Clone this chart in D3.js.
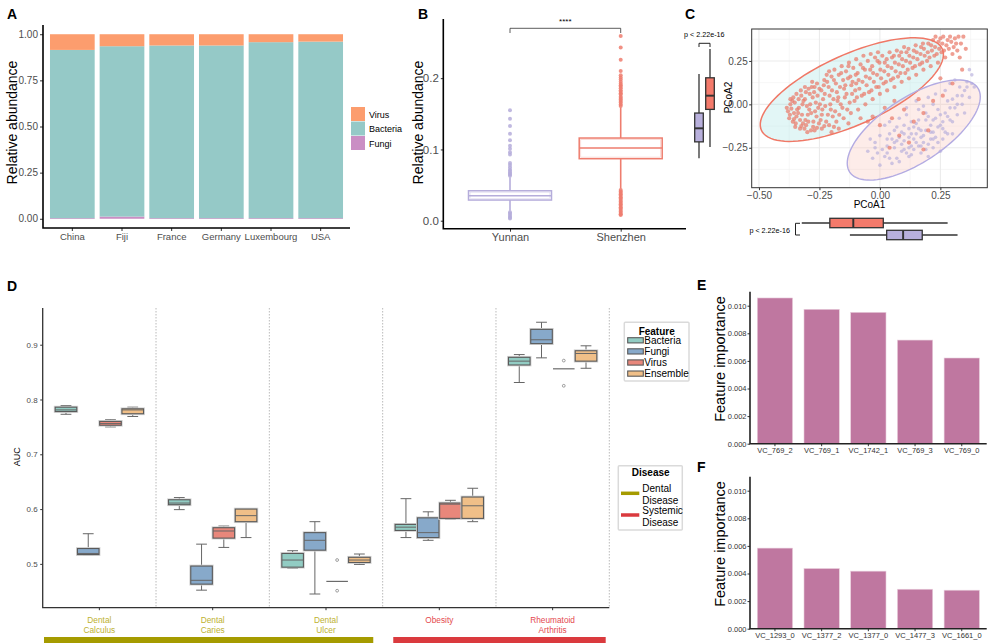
<!DOCTYPE html>
<html>
<head>
<meta charset="utf-8">
<script src="https://cdn.jsdelivr.net/npm/d3@7/dist/d3.min.js"></script>
<style>
  body { margin: 0; background: #fff; }
  svg { display: block; font-family: "Liberation Sans", Arial, Helvetica, sans-serif; }
</style>
</head>
<body>
<svg id="fig" width="989" height="643"></svg>
<script>
// ================= data =================
// A: relative abundance by country (stacked, bottom -> top)
const countries = ["China", "Fiji", "France", "Germany", "Luxembourg", "USA"];
const kingdoms = ["Fungi", "Bacteria", "Virus"];
const fungiAbund = [0.003, 0.012, 0.003, 0.003, 0.003, 0.003];
const bacteriaAbund = [0.912, 0.923, 0.936, 0.936, 0.954, 0.957];
const virusAbund = [0.085, 0.065, 0.061, 0.061, 0.043, 0.040];
const abundTicks = [0, 0.25, 0.5, 0.75, 1];

// B: viral relative abundance, [lower whisker, q1, median, q3, upper whisker]
const regions = ["Yunnan", "Shenzhen"];
const yunnanStats = [0.014, 0.029, 0.035, 0.042, 0.061];
const shenzhenStats = [0.045, 0.087, 0.102, 0.116, 0.159];
const yunnanOutliers = [0.063, 0.065, 0.066, 0.068, 0.070, 0.072, 0.075, 0.078, 0.081, 0.093, 0.096,
  0.101, 0.105, 0.113, 0.122, 0.133, 0.143, 0.155, 0.012, 0.010, 0.008, 0.006, 0.004, 0.003];
const shenzhenOutliers = [0.161, 0.163, 0.166, 0.168, 0.170, 0.172, 0.174, 0.177, 0.179, 0.181, 0.183,
  0.186, 0.188, 0.190, 0.192, 0.195, 0.198, 0.201, 0.204, 0.210, 0.226, 0.243, 0.259,
  0.043, 0.041, 0.039, 0.037, 0.035, 0.033, 0.031, 0.029, 0.027, 0.025, 0.023, 0.021, 0.019,
  0.017, 0.015, 0.013, 0.011, 0.009, 0.008];
const abundTicksB = [0, 0.1, 0.2];

// C: PCoA coordinates
const shenzhenPts = [
  [-0.38,-0.04],[-0.375,-0.08],[-0.37,0.0],[-0.385,-0.02],[-0.36,-0.1],[-0.355,-0.05],[-0.362,0.02],[-0.35,-0.13],
  [-0.358,0.04],[-0.345,-0.07],[-0.33,-0.14],[-0.335,-0.02],[-0.325,0.05],[-0.33,-0.09],[-0.32,0.0],[-0.338,-0.05],
  [-0.318,-0.11],[-0.327,0.08],[-0.30,-0.16],[-0.305,-0.12],[-0.298,-0.06],[-0.31,0.03],[-0.295,0.09],[-0.302,-0.01],
  [-0.29,0.06],[-0.308,-0.09],[-0.292,-0.03],[-0.27,-0.15],[-0.275,-0.1],[-0.268,-0.04],[-0.265,0.01],[-0.272,0.07],
  [-0.26,0.12],[-0.278,0.04],[-0.262,-0.07],[-0.27,0.1],[-0.24,-0.14],[-0.245,-0.09],[-0.238,-0.03],[-0.235,0.03],
  [-0.242,0.08],[-0.23,0.14],[-0.248,0.0],[-0.232,0.11],[-0.24,-0.06],[-0.21,-0.12],[-0.215,-0.06],[-0.205,0.0],
  [-0.208,0.05],[-0.212,0.1],[-0.2,0.16],[-0.218,0.13],[-0.203,-0.03],[-0.21,0.19],[-0.18,-0.1],[-0.185,-0.04],
  [-0.175,0.02],[-0.178,0.07],[-0.182,0.12],[-0.17,0.17],[-0.188,0.2],[-0.172,0.04],[-0.15,-0.08],[-0.155,-0.02],
  [-0.145,0.04],[-0.148,0.09],[-0.152,0.14],[-0.14,0.19],[-0.158,0.22],[-0.143,0.11],[-0.12,-0.05],[-0.125,0.01],
  [-0.115,0.06],[-0.118,0.11],[-0.122,0.16],[-0.11,0.21],[-0.128,0.24],[-0.113,0.13],[-0.09,-0.03],[-0.095,0.04],
  [-0.085,0.09],[-0.088,0.14],[-0.092,0.18],[-0.08,0.23],[-0.098,0.26],[-0.06,0.0],[-0.065,0.06],[-0.055,0.11],
  [-0.058,0.16],[-0.062,0.2],[-0.05,0.25],[-0.068,0.28],[-0.03,0.03],[-0.035,0.08],[-0.025,0.13],[-0.028,0.18],
  [-0.032,0.22],[-0.02,0.27],[-0.038,0.29],[0.0,0.06],[-0.005,0.1],[0.005,0.15],[0.002,0.2],[-0.002,0.24],
  [0.01,0.28],[-0.008,0.3],[0.03,0.08],[0.025,0.13],[0.035,0.17],[0.032,0.22],[0.028,0.26],[0.04,0.3],
  [0.06,0.1],[0.055,0.15],[0.065,0.19],[0.062,0.24],[0.058,0.28],[0.07,0.31],[0.09,0.13],[0.085,0.18],
  [0.095,0.22],[0.092,0.26],[0.088,0.3],[0.1,0.33],[0.12,0.15],[0.115,0.2],[0.125,0.24],[0.122,0.28],
  [0.118,0.32],[0.15,0.17],[0.145,0.22],[0.155,0.26],[0.152,0.3],[0.148,0.34],[0.18,0.2],[0.175,0.24],
  [0.185,0.28],[0.182,0.32],[0.178,0.35],[0.21,0.22],[0.205,0.27],[0.215,0.31],[0.212,0.34],[0.22,0.37],
  [0.24,0.24],[0.235,0.29],[0.245,0.32],[0.242,0.36],[0.25,0.38],[0.27,0.27],[0.265,0.31],[0.275,0.34],
  [0.28,0.37],[0.262,0.39],[0.3,0.29],[0.305,0.33],[0.295,0.36],[0.31,0.38],[0.32,0.31],[0.335,0.35],
  [0.345,0.39],[0.33,0.27],[0.355,0.32],[-0.13,-0.11],[-0.17,-0.14],[-0.2,-0.16],[-0.08,-0.08],
  [0.02,-0.02],[0.05,-0.08],[0.1,-0.03],[0.14,-0.1],[0.08,-0.18],[0.18,-0.05],[0.22,0.02],[0.0,-0.12],
  [-0.03,-0.07],[0.12,-0.22],[0.2,-0.15],[0.26,0.05],[0.3,0.12],[0.16,0.03],[0.06,0.02],[-0.05,-0.1],
  [0.25,0.15],[0.34,0.2],[0.04,-0.25],[0.18,-0.26],
  [-0.372,-0.06],[-0.366,-0.025],[-0.352,0.01],[-0.348,-0.11],[-0.342,-0.03],[-0.336,0.03],[-0.322,-0.06],[-0.316,0.02],
  [-0.312,-0.14],[-0.306,0.07],[-0.296,-0.1],[-0.288,0.0],[-0.284,-0.05],[-0.282,0.1],[-0.276,-0.13],[-0.258,0.05],
  [-0.255,-0.02],[-0.252,-0.11],[-0.25,0.09],[-0.228,0.06],[-0.226,-0.01],[-0.222,-0.1],[-0.22,0.17],[-0.198,0.08],
  [-0.195,-0.07],[-0.192,0.03],[-0.19,0.14],[-0.168,-0.06],[-0.165,0.1],[-0.162,0.0],[-0.16,0.18],[-0.138,0.06],
  [-0.135,-0.03],[-0.132,0.15],[-0.13,0.22],[-0.105,0.02],[-0.102,0.08],[-0.1,0.17],[-0.098,0.12],[-0.075,0.05],
  [-0.072,0.13],[-0.07,0.21],[-0.045,0.07],[-0.042,0.15],[-0.04,0.2],[-0.015,0.1],[-0.012,0.17],[-0.01,0.25],
  [0.015,0.12],[0.018,0.19],[0.02,0.24],[0.045,0.14],[0.048,0.21],[0.05,0.27],[0.075,0.16],[0.078,0.23],
  [0.08,0.28],[0.105,0.18],[0.108,0.25],[0.11,0.3],[0.135,0.21],[0.138,0.27],[0.14,0.31],[0.165,0.23],
  [0.168,0.29],[0.17,0.33],[0.195,0.25],[0.198,0.3],[0.2,0.35],[0.225,0.28],[0.228,0.33],[0.23,0.39],
  [0.255,0.3],[0.258,0.35],[0.285,0.32],[0.29,0.39],[0.315,0.35],[0.325,0.39],[-0.355,-0.085],[-0.325,-0.125],
  [-0.285,-0.15],[-0.26,-0.135],[-0.23,-0.125],[-0.19,-0.13],[-0.28,0.13],[-0.31,0.1],[-0.345,0.06],[-0.37,0.03]
];
const yunnanPts = [
  [-0.05,-0.27],[-0.03,-0.31],[-0.02,-0.22],[0.0,-0.35],[-0.01,-0.28],[0.0,-0.18],[-0.04,-0.2],
  [0.02,-0.3],[0.03,-0.24],[0.04,-0.17],[0.02,-0.12],[0.05,-0.34],[0.03,-0.28],[0.05,-0.2],[0.04,-0.1],
  [0.06,-0.25],[0.07,-0.31],[0.08,-0.19],[0.07,-0.13],[0.09,-0.27],[0.08,-0.08],[0.06,-0.22],[0.09,-0.16],[0.08,-0.33],
  [0.1,-0.21],[0.11,-0.28],[0.12,-0.14],[0.11,-0.06],[0.13,-0.24],[0.1,-0.17],[0.12,-0.3],[0.13,-0.1],[0.11,-0.02],[0.12,-0.19],
  [0.14,-0.26],[0.15,-0.17],[0.16,-0.09],[0.15,-0.22],[0.17,-0.28],[0.14,-0.13],[0.16,-0.03],[0.17,-0.19],[0.15,0.02],[0.16,-0.14],
  [0.18,-0.22],[0.19,-0.15],[0.2,-0.07],[0.19,-0.26],[0.21,-0.12],[0.18,-0.01],[0.2,0.04],[0.21,-0.2],[0.19,-0.09],[0.2,-0.3],
  [0.22,-0.16],[0.23,-0.08],[0.24,-0.22],[0.22,0.0],[0.25,-0.12],[0.23,0.06],[0.24,-0.03],[0.25,-0.27],[0.22,-0.25],
  [0.26,-0.14],[0.27,-0.05],[0.28,0.02],[0.26,-0.2],[0.29,-0.09],[0.27,0.08],[0.28,-0.17],[0.29,0.12],
  [0.3,-0.1],[0.31,-0.02],[0.32,0.05],[0.3,-0.17],[0.33,0.1],[0.31,0.14],[0.32,-0.06],
  [0.34,0.0],[0.35,0.08],[0.36,0.13],[0.37,0.04],[0.38,0.17],[0.35,-0.05],[0.39,0.1],[0.37,0.2],
  [0.01,-0.26],[0.04,-0.31],[0.07,-0.21],[0.09,-0.23],[0.1,-0.12],[0.12,-0.25],[0.13,-0.17],[0.14,-0.2],
  [0.15,-0.11],[0.16,-0.24],[0.17,-0.15],[0.18,-0.18],[0.19,-0.05],[0.2,-0.23],[0.21,-0.16],[0.22,-0.09],
  [0.23,-0.19],[0.24,-0.13],[0.25,-0.06],[0.26,-0.1],[0.27,-0.16],[0.28,-0.07],[0.29,-0.02],[0.3,0.03],
  [0.32,0.0],[0.34,0.05],[0.06,-0.15],[0.03,-0.2],[-0.02,-0.25],[0.1,-0.26],[0.13,-0.29],[0.17,-0.24],
  [0.22,-0.2],[0.36,0.1],[0.38,0.12]
];
// 95% ellipses: [centre x, centre y, half-axis u (x, y), half-axis v (x, y)]
const shenzhenEllipse = [-0.116, 0.085, 0.374, 0.234, 0.059, -0.185];
const yunnanEllipse = [0.14, -0.148, 0.265, 0.242, 0.0736, -0.157];
// marginal boxplots [lower whisker, q1, median, q3, upper whisker]
const pcoa1Shenzhen = [-0.323, -0.207, -0.110, 0.014, 0.280];
const pcoa1Yunnan = [-0.124, 0.028, 0.096, 0.175, 0.321];
const pcoa2Shenzhen = [-0.245, -0.029, 0.05, 0.153, 0.319];
const pcoa2Yunnan = [-0.31, -0.216, -0.138, -0.05, 0.175];
const pcoaTicksX = [-0.5, -0.25, 0, 0.25];
const pcoaTicksY = [-0.25, 0, 0.25];
const pcoaMinor = [-0.375, -0.125, 0.125, 0.375];

// D: AUC per disease, [lower whisker, q1, median, q3, upper whisker]
const diseases = ["Dental\nCalculus", "Dental\nCaries", "Dental\nUlcer", "Obesity", "Rheumatoid\nArthritis"];
const diseaseGroup = ["Dental", "Dental", "Dental", "Systemic", "Systemic"];
const features = ["Bacteria", "Fungi", "Virus", "Ensemble"];
const aucBacteria = [[0.773,0.778,0.781,0.786,0.789],[0.599,0.608,0.611,0.617,0.621],[0.492,0.494,0.507,0.519,0.524],[0.548,0.561,0.567,0.572,0.619],[0.831,0.863,0.870,0.877,0.882]];
const aucFungi = [[0.516,0.517,0.519,0.528,0.555],[0.452,0.463,0.470,0.496,0.536],[0.445,0.525,0.543,0.557,0.577],[0.543,0.548,0.557,0.584,0.595],[0.876,0.902,0.909,0.928,0.941]];
const aucVirus = [[0.750,0.753,0.756,0.760,0.763],[0.530,0.547,0.560,0.566,0.569],[0.468,0.468,0.468,0.4685,0.4685],[0.581,0.583,0.609,0.611,0.616],[0.856,0.856,0.856,0.8565,0.8565]];
const aucEnsemble = [[0.769,0.774,0.781,0.783,0.786],[0.548,0.577,0.588,0.600,0.601],[0.499,0.5025,0.507,0.512,0.518],[0.577,0.583,0.606,0.622,0.638],[0.857,0.870,0.884,0.889,0.898]];
const virusOutliers = [[], [], [0.507, 0.451], [], [0.871, 0.825]];
const aucTicks = [0.5, 0.6, 0.7, 0.8, 0.9];

// E / F: feature importance of top viral clusters
const clustersE = ["VC_769_2", "VC_769_1", "VC_1742_1", "VC_769_3", "VC_769_0"];
const importanceE = [0.01056, 0.00974, 0.00952, 0.00751, 0.00621];
const clustersF = ["VC_1293_0", "VC_1377_2", "VC_1377_0", "VC_1477_3", "VC_1661_0"];
const importanceF = [0.00584, 0.00436, 0.00417, 0.00286, 0.00279];
const importanceTicks = [0, 0.002, 0.004, 0.006, 0.008, 0.010];

// ================= drawing =================
const svg = d3.select("#fig");
const GREY = "#4D4D4D";
const kingdomColor = { Virus: "#FC9D6E", Bacteria: "#95C9C7", Fungi: "#CA8EC4" };
const regionColor = { Yunnan: "#B5ADDB", Shenzhen: "#EE7D6E" };
const featureColor = { Bacteria: "#92CCC3", Fungi: "#87A9CA", Virus: "#E8877B", Ensemble: "#F0BF88" };
const groupColor = { Dental: "#A59B00", Systemic: "#DA3A3E" };
const groupText = { Dental: "#BDB130", Systemic: "#E4484E" };

function styleAxis(sel, size, color = GREY) {
  sel.select(".domain").remove();
  sel.selectAll(".tick line").attr("stroke", "#333");
  sel.selectAll(".tick text").attr("fill", color).style("font-size", size + "px");
}
function panelLabel(x, y, t) {
  svg.append("text").attr("x", x).attr("y", y).text(t)
    .style("font-size", "14px").style("font-weight", "bold");
}
function yTitle(x, y, t, size) {
  svg.append("text").attr("transform", `translate(${x},${y}) rotate(-90)`)
    .attr("text-anchor", "middle").style("font-size", size + "px").text(t);
}

// ---------- A ----------
const gA = svg.append("g");
const xA = d3.scaleBand().domain(countries).range([47.5, 345.5]).paddingInner(0.1).paddingOuter(0.05);
const yA = d3.scaleLinear().domain([-0.05, 1.05]).range([228, 25]);
const stackA = d3.stack().keys(kingdoms)(countries.map((c, i) => ({
  country: c, Fungi: fungiAbund[i], Bacteria: bacteriaAbund[i], Virus: virusAbund[i] })));
gA.append("g").selectAll("g").data(stackA).join("g").attr("fill", d => kingdomColor[d.key])
  .selectAll("rect").data(d => d).join("rect")
  .attr("x", d => xA(d.data.country)).attr("width", xA.bandwidth())
  .attr("y", d => yA(d[1])).attr("height", d => Math.max(0.8, yA(d[0]) - yA(d[1])));
gA.append("g").attr("transform", "translate(43,0)")
  .call(d3.axisLeft(yA).tickValues(abundTicks).tickFormat(d3.format(".2f")).tickSize(3).tickPadding(2))
  .call(styleAxis, 10);
gA.append("g").attr("transform", "translate(0,228)")
  .call(d3.axisBottom(xA).tickSize(3).tickPadding(2)).call(styleAxis, 9.5);
gA.append("path").attr("d", "M43,25V228H350").attr("fill", "none").attr("stroke", "#000").attr("stroke-width", 1.6);
["Virus", "Bacteria", "Fungi"].forEach((k, i) => {
  gA.append("rect").attr("x", 351).attr("y", 107 + i * 14.5).attr("width", 14).attr("height", 14).attr("fill", kingdomColor[k]);
  gA.append("text").attr("x", 369).attr("y", 117.5 + i * 14.5).style("font-size", "9px").text(k);
});
yTitle(16.5, 122.5, "Relative abundance", 14);
panelLabel(7, 18.5, "A");

// ---------- B ----------
const gB = svg.append("g");
const xB = d3.scalePoint().domain(regions).range([510, 620.7]);
const yB = d3.scaleLinear().domain([-0.0112, 0.283]).range([228.7, 19]);
const bw = 83;
[[regions[0], yunnanStats, yunnanOutliers], [regions[1], shenzhenStats, shenzhenOutliers]].forEach(([r, s, out]) => {
  const cx = xB(r), c = regionColor[r];
  gB.append("line").attr("x1", cx).attr("x2", cx).attr("y1", yB(s[0])).attr("y2", yB(s[4]))
    .attr("stroke", c).attr("stroke-width", 1.6);
  gB.append("rect").attr("x", cx - bw / 2).attr("width", bw).attr("y", yB(s[3])).attr("height", yB(s[1]) - yB(s[3]))
    .attr("fill", "#fff").attr("stroke", c).attr("stroke-width", 1.5);
  gB.append("rect").attr("x", cx - bw / 2 + 1.6).attr("width", bw - 3.2).attr("y", yB(s[3]) + 1.6).attr("height", yB(s[1]) - yB(s[3]) - 3.2)
    .attr("fill", "none").attr("stroke", c).attr("stroke-width", 0.5).attr("opacity", 0.5);
  gB.append("line").attr("x1", cx - bw / 2).attr("x2", cx + bw / 2).attr("y1", yB(s[2])).attr("y2", yB(s[2]))
    .attr("stroke", c).attr("stroke-width", 1.6);
  gB.selectAll(null).data(out).join("circle").attr("cx", cx).attr("cy", d => yB(d)).attr("r", 2)
    .attr("fill", c).attr("opacity", 0.85);
});
gB.append("g").attr("transform", "translate(443.3,0)")
  .call(d3.axisLeft(yB).tickValues(abundTicksB).tickFormat(d3.format(".1f")).tickSize(2.5).tickPadding(2))
  .call(styleAxis, 11.5);
gB.append("g").attr("transform", "translate(0,228.7)")
  .call(d3.axisBottom(xB).tickSize(3).tickPadding(1.5)).call(styleAxis, 11);
gB.append("path").attr("d", "M443.3,19V228.7H686").attr("fill", "none").attr("stroke", "#000").attr("stroke-width", 1.6);
gB.append("path").attr("d", `M${xB(regions[0])},33V28.3H${xB(regions[1])}V33`).attr("fill", "none").attr("stroke", "#333").attr("stroke-width", 0.8);
gB.append("text").attr("x", (xB(regions[0]) + xB(regions[1])) / 2).attr("y", 24).attr("text-anchor", "middle")
  .style("font-size", "8px").text("****");
yTitle(423, 122.5, "Relative abundance", 14);
panelLabel(418, 18.5, "B");

// ---------- C ----------
const gC = svg.append("g");
const xC = d3.scaleLinear().domain([-0.53, 0.444]).range([751.7, 987.3]);
const yC = d3.scaleLinear().domain([-0.48, 0.434]).range([187.7, 29]);
gC.append("clipPath").attr("id", "clipC").append("rect")
  .attr("x", 751.7).attr("y", 29).attr("width", 987.3 - 751.7).attr("height", 187.7 - 29);
const plotC = gC.append("g").attr("clip-path", "url(#clipC)");
plotC.append("rect").attr("x", 751.7).attr("y", 29).attr("width", 235.6).attr("height", 158.7).attr("fill", "#fff");
pcoaMinor.forEach(v => {
  plotC.append("line").attr("x1", xC(v)).attr("x2", xC(v)).attr("y1", 29).attr("y2", 187.7).attr("stroke", "#F2F2F2").attr("stroke-width", 0.6);
  plotC.append("line").attr("y1", yC(v)).attr("y2", yC(v)).attr("x1", 751.7).attr("x2", 987.3).attr("stroke", "#F2F2F2").attr("stroke-width", 0.6);
});
pcoaTicksX.forEach(v => plotC.append("line").attr("x1", xC(v)).attr("x2", xC(v)).attr("y1", 29).attr("y2", 187.7).attr("stroke", "#EBEBEB").attr("stroke-width", 1.1));
pcoaTicksY.forEach(v => plotC.append("line").attr("y1", yC(v)).attr("y2", yC(v)).attr("x1", 751.7).attr("x2", 987.3).attr("stroke", "#EBEBEB").attr("stroke-width", 1.1));

function ellipsePath(e) {
  const pts = d3.range(0, 96).map(i => {
    const t = i / 96 * 2 * Math.PI;
    return [xC(e[0] + e[2] * Math.cos(t) + e[4] * Math.sin(t)), yC(e[1] + e[3] * Math.cos(t) + e[5] * Math.sin(t))];
  });
  return d3.line().curve(d3.curveLinearClosed)(pts);
}
plotC.append("path").attr("d", ellipsePath(shenzhenEllipse)).attr("fill", "#A6E3E3").attr("fill-opacity", 0.33);
plotC.append("path").attr("d", ellipsePath(yunnanEllipse)).attr("fill", "#F8C4BC").attr("fill-opacity", 0.33);
plotC.selectAll("circle.yn").data(yunnanPts).join("circle").attr("class", "yn")
  .attr("cx", d => xC(d[0])).attr("cy", d => yC(d[1])).attr("r", 1.8).attr("fill", regionColor.Yunnan).attr("opacity", 0.65);
plotC.selectAll("circle.sz").data(shenzhenPts).join("circle").attr("class", "sz")
  .attr("cx", d => xC(d[0])).attr("cy", d => yC(d[1])).attr("r", 2.1).attr("fill", "#E97F6F").attr("opacity", 0.75);
plotC.append("path").attr("d", ellipsePath(shenzhenEllipse)).attr("fill", "none").attr("stroke", "#F07866").attr("stroke-width", 1.5);
plotC.append("path").attr("d", ellipsePath(yunnanEllipse)).attr("fill", "none").attr("stroke", "#B3ABE2").attr("stroke-width", 1.4);
gC.append("rect").attr("x", 751.7).attr("y", 29).attr("width", 235.6).attr("height", 158.7)
  .attr("fill", "none").attr("stroke", "#333").attr("stroke-width", 1);
gC.append("g").attr("transform", "translate(0,187.7)")
  .call(d3.axisBottom(xC).tickValues(pcoaTicksX).tickFormat(d3.format(".2f")).tickSize(2.5).tickPadding(1.5))
  .call(styleAxis, 10);
gC.append("g").attr("transform", "translate(751.7,0)")
  .call(d3.axisLeft(yC).tickValues(pcoaTicksY).tickFormat(d3.format(".2f")).tickSize(2.5).tickPadding(1.5))
  .call(styleAxis, 10);
gC.append("text").attr("x", (751.7 + 987.3) / 2).attr("y", 208).attr("text-anchor", "middle").style("font-size", "10px").text("PCoA1");
yTitle(731.5, 97.5, "PCoA2", 10);

// marginal boxes
function vBox(g, cx, w, s, y, fill, stroke, sw) {
  g.append("line").attr("x1", cx).attr("x2", cx).attr("y1", y(s[4])).attr("y2", y(s[0])).attr("stroke", stroke).attr("stroke-width", sw);
  g.append("rect").attr("x", cx - w / 2).attr("width", w).attr("y", y(s[3])).attr("height", Math.max(0.6, y(s[1]) - y(s[3])))
    .attr("fill", fill).attr("stroke", stroke).attr("stroke-width", sw);
  g.append("line").attr("x1", cx - w / 2).attr("x2", cx + w / 2).attr("y1", y(s[2])).attr("y2", y(s[2])).attr("stroke", stroke).attr("stroke-width", sw * 1.5);
}
function hBox(g, cy, h, s, x, fill, stroke, sw) {
  g.append("line").attr("y1", cy).attr("y2", cy).attr("x1", x(s[0])).attr("x2", x(s[4])).attr("stroke", stroke).attr("stroke-width", sw);
  g.append("rect").attr("y", cy - h / 2).attr("height", h).attr("x", x(s[1])).attr("width", x(s[3]) - x(s[1]))
    .attr("fill", fill).attr("stroke", stroke).attr("stroke-width", sw);
  g.append("line").attr("y1", cy - h / 2).attr("y2", cy + h / 2).attr("x1", x(s[2])).attr("x2", x(s[2])).attr("stroke", stroke).attr("stroke-width", sw * 1.5);
}
vBox(gC, 699, 8.6, pcoa2Yunnan, yC, "#B8B0DC", "#333", 1.3);
vBox(gC, 710, 8.6, pcoa2Shenzhen, yC, "#F47A6B", "#333", 1.3);
hBox(gC, 223, 9.4, pcoa1Shenzhen, xC, "#F47A6B", "#333", 1.3);
hBox(gC, 235, 9.4, pcoa1Yunnan, xC, "#B8B0DC", "#333", 1.3);
gC.append("path").attr("d", "M699,47V43.3H710V47").attr("fill", "none").attr("stroke", "#222").attr("stroke-width", 1);
gC.append("text").attr("x", 684).attr("y", 36.5).style("font-size", "7.2px").text("p < 2.22e-16");
gC.append("path").attr("d", "M800,223.3H795.5V235H800").attr("fill", "none").attr("stroke", "#222").attr("stroke-width", 1);
gC.append("text").attr("x", 790).attr("y", 232.5).attr("text-anchor", "end").style("font-size", "7.2px").text("p < 2.22e-16");
panelLabel(685, 18.5, "C");

// ---------- D ----------
const gD = svg.append("g");
const xD = d3.scaleBand().domain(diseases).range([42.7, 609.3]);
const xF = d3.scaleBand().domain(features).range([-44.5, 44.5]);
const yD = d3.scaleLinear().domain([0.42, 0.967]).range([607.7, 308]);
diseases.forEach(d => {
  gD.append("line").attr("x1", xD(d) + xD.bandwidth()).attr("x2", xD(d) + xD.bandwidth()).attr("y1", 308).attr("y2", 607.7)
    .attr("stroke", "#A8A8A8").attr("stroke-width", 0.8).attr("stroke-dasharray", "1.5,1.5");
});
const aucByFeature = { Bacteria: aucBacteria, Fungi: aucFungi, Virus: aucVirus, Ensemble: aucEnsemble };
diseases.forEach((d, i) => {
  features.forEach(f => {
    const s = aucByFeature[f][i];
    const cx = xD(d) + xD.bandwidth() / 2 + xF(f) + xF.bandwidth() / 2;
    const w = xF.bandwidth() * 0.97;
    const g = gD.append("g");
    const bh = yD(s[1]) - yD(s[3]);
    if (bh < 1) {
      // collapsed box: a single grey line
      g.append("line").attr("x1", cx - w / 2).attr("x2", cx + w / 2).attr("y1", yD(s[2])).attr("y2", yD(s[2]))
        .attr("stroke", "#6A6A6A").attr("stroke-width", 1.2);
    } else {
      [[s[4], s[3]], [s[1], s[0]]].forEach(([a, b]) => g.append("line").attr("x1", cx).attr("x2", cx)
        .attr("y1", yD(a)).attr("y2", yD(b)).attr("stroke", "#666").attr("stroke-width", 1));
      [s[0], s[4]].forEach(v => g.append("line").attr("x1", cx - w / 4).attr("x2", cx + w / 4)
        .attr("y1", yD(v)).attr("y2", yD(v)).attr("stroke", "#666").attr("stroke-width", 1));
      g.append("rect").attr("x", cx - w / 2).attr("width", w).attr("y", yD(s[3])).attr("height", bh)
        .attr("fill", "none").attr("stroke", "#D4D4D4").attr("stroke-width", 2.8);
      g.append("rect").attr("x", cx - w / 2).attr("width", w).attr("y", yD(s[3])).attr("height", bh)
        .attr("fill", featureColor[f]).attr("stroke", "#5A5A5A").attr("stroke-width", 1.1);
      g.append("line").attr("x1", cx - w / 2).attr("x2", cx + w / 2).attr("y1", yD(s[2])).attr("y2", yD(s[2]))
        .attr("stroke", "#666").attr("stroke-width", 1);
    }
    if (f === "Virus") {
      g.selectAll(null).data(virusOutliers[i]).join("circle").attr("cx", cx).attr("cy", v => yD(v)).attr("r", 1.4)
        .attr("fill", "none").attr("stroke", "#777").attr("stroke-width", 0.7);
    }
  });
  // category labels
  const t = gD.append("text").attr("x", xD(d) + xD.bandwidth() / 2).attr("y", 619.5).attr("text-anchor", "middle")
    .attr("fill", groupText[diseaseGroup[i]]).style("font-size", "8.3px");
  d.split("\n").forEach((line, j) => t.append("tspan").attr("x", xD(d) + xD.bandwidth() / 2).attr("dy", j ? 10 : 3).text(line));
});
gD.append("g").attr("transform", "translate(42.7,0)")
  .call(d3.axisLeft(yD).tickValues(aucTicks).tickFormat(d3.format(".1f")).tickSize(2.5).tickPadding(2.5))
  .call(styleAxis, 8);
gD.append("g").attr("transform", "translate(0,607.7)")
  .call(d3.axisBottom(xD).tickFormat("").tickSize(2.5)).call(styleAxis, 8);
gD.append("path").attr("d", "M42.7,308V607.7H609.3").attr("fill", "none").attr("stroke", "#333").attr("stroke-width", 1.3);
// disease group colour bars
const dentalEnd = xD(diseases[2]) + xD.bandwidth();
gD.append("rect").attr("x", xD(diseases[0]) + 1.3).attr("width", dentalEnd - 9.4 - xD(diseases[0]) - 1.3)
  .attr("y", 637).attr("height", 6).attr("fill", groupColor.Dental);
gD.append("rect").attr("x", xD(diseases[3]) + 10.6).attr("width", 609.3 - 3.6 - xD(diseases[3]) - 10.6)
  .attr("y", 637).attr("height", 6).attr("fill", groupColor.Systemic);
yTitle(20, 456.7, "AUC", 9);
// Feature legend
gD.append("rect").attr("x", 624.3).attr("y", 322.3).attr("width", 64.7).attr("height", 58.7)
  .attr("fill", "#fff").attr("stroke", "#DADADA").attr("stroke-width", 1.5).attr("rx", 1);
gD.append("text").attr("x", 656.7).attr("y", 334.5).attr("text-anchor", "middle").style("font-size", "10px").style("font-weight", "bold").text("Feature");
features.forEach((f, i) => {
  const cy = 340.3 + i * 11.1;
  gD.append("rect").attr("x", 627.7).attr("y", cy - 2.6).attr("width", 15.6).attr("height", 5.2)
    .attr("fill", featureColor[f]).attr("stroke", "#5A5A5A").attr("stroke-width", 1.1);
  gD.append("text").attr("x", 644.3).attr("y", cy + 3.5).style("font-size", "10px").text(f);
});
// Disease legend
gD.append("rect").attr("x", 618.3).attr("y", 465.7).attr("width", 64).attr("height", 64.3)
  .attr("fill", "#fff").attr("stroke", "#DADADA").attr("stroke-width", 1.5).attr("rx", 1);
gD.append("text").attr("x", 650.7).attr("y", 476).attr("text-anchor", "middle").style("font-size", "10px").style("font-weight", "bold").text("Disease");
[["Dental", 493.3], ["Systemic", 515]].forEach(([k, cy]) => {
  gD.append("line").attr("x1", 621).attr("x2", 639.3).attr("y1", cy).attr("y2", cy).attr("stroke", groupColor[k]).attr("stroke-width", 3.5);
  const t = gD.append("text").attr("x", 642.3).attr("y", cy - 1).style("font-size", "10px");
  t.append("tspan").attr("x", 642.3).text(k);
  t.append("tspan").attr("x", 642.3).attr("dy", 11.6).text("Disease");
});
panelLabel(7, 291, "D");

// ---------- E / F ----------
function importancePanel(y0, names, values, label, labelY) {
  const g = svg.append("g");
  const x = d3.scaleBand().domain(names).range([750, 986.7]).paddingInner(0.244).paddingOuter(0.156);
  const y = d3.scaleLinear().domain([0, 0.011]).range([y0, y0 - 151.8]);
  g.selectAll("rect").data(names).join("rect")
    .attr("x", d => x(d)).attr("width", x.bandwidth())
    .attr("y", (d, i) => y(values[i])).attr("height", (d, i) => y(0) - y(values[i]))
    .attr("fill", "#BF77A0").attr("stroke", "#E9CFDD").attr("stroke-width", 0.6);
  g.append("g").attr("transform", "translate(750,0)")
    .call(d3.axisLeft(y).tickValues(importanceTicks).tickFormat(d3.format(".3f")).tickSize(2.5).tickPadding(1))
    .call(styleAxis, 7.5, "#333");
  g.append("g").attr("transform", `translate(0,${y0})`)
    .call(d3.axisBottom(x).tickSize(2.5).tickPadding(1.5)).call(styleAxis, 7.5, "#333");
  g.append("path").attr("d", `M750,${y0 - 152}V${y0}H986.7`).attr("fill", "none").attr("stroke", "#222").attr("stroke-width", 1.6);
  yTitle(725, y0 - 84.7, "Feature importance", 14.5);
  panelLabel(697, labelY, label);
}
importancePanel(443.7, clustersE, importanceE, "E", 290);
importancePanel(628.7, clustersF, importanceF, "F", 471.5);
</script>
</body>
</html>
